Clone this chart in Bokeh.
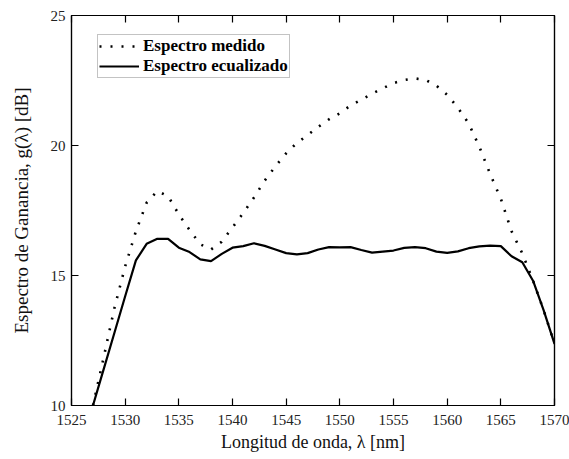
from bokeh.plotting import figure
from bokeh.models import Range1d, LinearAxis, FixedTicker, Legend, LegendItem
from bokeh.embed import file_html
from bokeh.resources import INLINE

# Data
wl_medido = [1527, 1528, 1529, 1530, 1531, 1532, 1533, 1534, 1535, 1536, 1537, 1538,
             1539, 1540, 1541, 1542, 1543, 1544, 1545, 1546, 1547, 1548, 1549, 1550,
             1551, 1552, 1553, 1554, 1555, 1556, 1557, 1558, 1559, 1560, 1561, 1562,
             1563, 1564, 1565, 1566, 1567, 1568, 1569, 1570]
g_medido = [10.0, 11.85, 13.75, 15.35, 16.7, 17.8, 18.25, 18.05, 17.35, 16.75, 16.2, 16.0,
            16.3, 16.85, 17.4, 18.0, 18.65, 19.2, 19.7, 20.1, 20.4, 20.72, 21.01, 21.24,
            21.54, 21.76, 21.99, 22.2, 22.4, 22.52, 22.58, 22.52, 22.3, 21.95, 21.45, 20.85,
            19.95, 18.91, 17.95, 16.7, 15.85, 14.8, 13.65, 12.37]

wl_ecualizado = [1527, 1528, 1529, 1530, 1531, 1532, 1533, 1534, 1535, 1536, 1537, 1538,
                 1539, 1540, 1541, 1542, 1543, 1544, 1545, 1546, 1547, 1548, 1549, 1550,
                 1551, 1552, 1553, 1554, 1555, 1556, 1557, 1558, 1559, 1560, 1561, 1562,
                 1563, 1564, 1565, 1566, 1567, 1568, 1569, 1570]
g_ecualizado = [10.0, 11.4, 12.8, 14.2, 15.58, 16.22, 16.41, 16.41, 16.07, 15.9, 15.62, 15.55,
                15.83, 16.07, 16.13, 16.24, 16.14, 16.0, 15.86, 15.81, 15.86, 16.0, 16.09, 16.08,
                16.09, 15.98, 15.88, 15.92, 15.96, 16.06, 16.09, 16.05, 15.92, 15.87, 15.93, 16.05,
                16.12, 16.15, 16.13, 15.74, 15.51, 14.8, 13.65, 12.37]

x_ticks = [1525, 1530, 1535, 1540, 1545, 1550, 1555, 1560, 1565, 1570]
y_ticks = [10, 15, 20, 25]
series_labels = ["Espectro medido", "Espectro ecualizado"]

FONT = "Liberation Serif"

p = figure(frame_width=483, frame_height=390, output_backend="svg", toolbar_location=None,
           x_range=Range1d(1525, 1570), y_range=Range1d(10, 25),
           min_border_left=71, min_border_right=15, min_border_top=15, min_border_bottom=54)
p.xgrid.visible = False
p.ygrid.visible = False
p.outline_line_color = "black"
p.outline_line_width = 1.2
p.background_fill_color = "white"
p.border_fill_color = "white"

r1 = p.line(wl_medido, g_medido, line_color="black", line_width=2.6,
            line_dash="2 9", line_cap="butt")
r2 = p.line(wl_ecualizado, g_ecualizado, line_color="black", line_width=2.2)

xb = p.below[0]
yl = p.left[0]
xb.ticker = FixedTicker(ticks=x_ticks)
yl.ticker = FixedTicker(ticks=y_ticks)

top = LinearAxis(ticker=FixedTicker(ticks=x_ticks),
                 major_label_overrides={t: "" for t in x_ticks})
right = LinearAxis(ticker=FixedTicker(ticks=y_ticks),
                   major_label_overrides={t: "" for t in y_ticks})
p.add_layout(top, "above")
p.add_layout(right, "right")

for ax in [xb, yl, top, right]:
    ax.major_tick_in = 7
    ax.major_tick_out = 0
    ax.minor_tick_line_color = None
    ax.axis_line_color = "black"
    ax.axis_line_width = 1.2
    ax.major_tick_line_color = "black"
    ax.major_tick_line_width = 1.2
    ax.major_label_text_font = FONT
    ax.major_label_text_font_size = "15px"
    ax.major_label_text_color = "#222222"
for ax in [top, right]:
    ax.major_label_standoff = 0

xb.major_label_standoff = 9
yl.major_label_standoff = 6

yl.axis_label = "Espectro de Ganancia, g(λ) [dB]"
yl.axis_label_text_font = FONT
yl.axis_label_text_font_style = "normal"
yl.axis_label_text_font_size = "19px"
yl.axis_label_text_color = "#111111"
yl.axis_label_standoff = 16

xb.axis_label = "Longitud de onda, λ [nm]"
xb.axis_label_text_font = FONT
xb.axis_label_text_font_style = "normal"
xb.axis_label_text_font_size = "18px"
xb.axis_label_text_color = "#111111"
xb.axis_label_standoff = 4

legend = Legend(items=[LegendItem(label=series_labels[0], renderers=[r1]),
                       LegendItem(label=series_labels[1], renderers=[r2])],
                location=(26, 327))
legend.label_text_font = FONT
legend.label_text_font_style = "bold"
legend.label_text_font_size = "17px"
legend.label_text_color = "black"
legend.glyph_width = 40
legend.glyph_height = 20
legend.label_height = 20
legend.label_standoff = 4
legend.spacing = 0
legend.padding = 1
legend.margin = 0
legend.border_line_color = "#888888"
legend.border_line_width = 1
legend.background_fill_alpha = 1
p.add_layout(legend, "center")

open("out.html", "w").write(file_html(p, INLINE))
